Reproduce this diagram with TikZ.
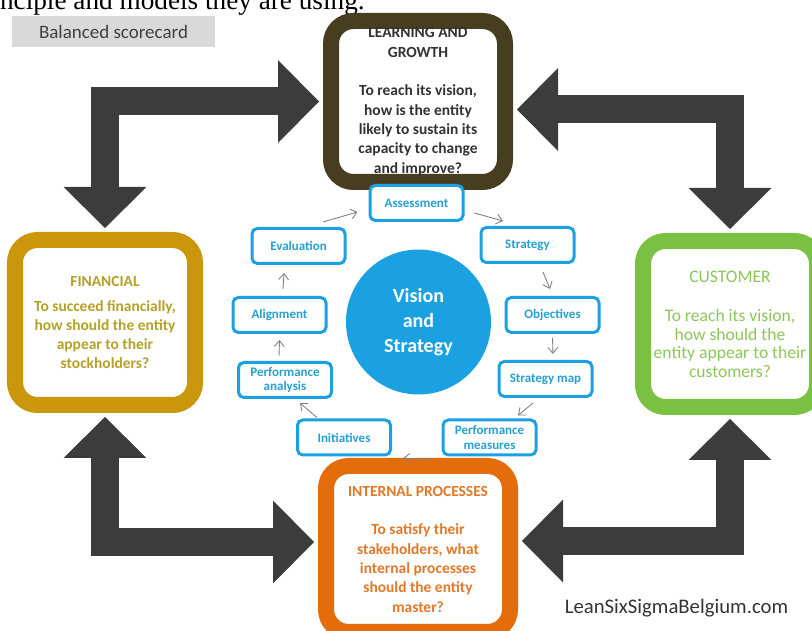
\documentclass[tikz,border=0pt]{standalone}
\usepackage{fontspec}
\setmainfont{Carlito}
\newfontfamily\pagefont{Liberation Serif}
\usetikzlibrary{arrows.meta,calc}

\definecolor{lgbrown}{RGB}{71,61,32}
\definecolor{lgtext}{RGB}{50,50,50}
\definecolor{fingold}{RGB}{201,150,12}
\definecolor{fintext}{RGB}{181,160,40}
\definecolor{custgreen}{RGB}{122,193,67}
\definecolor{custtext}{RGB}{141,198,90}
\definecolor{intorange}{RGB}{228,108,10}
\definecolor{inttext}{RGB}{226,120,40}
\definecolor{bscblue}{RGB}{27,161,226}
\definecolor{bsctext}{RGB}{38,160,212}
\definecolor{arrgray}{RGB}{60,60,60}

\begin{document}
\begin{tikzpicture}[
  every node/.style={inner sep=0pt},
  persp/.style={
    draw, fill=white, rounded corners=0.45cm, line width=0.32cm,
    align=center, font=\bfseries\fontsize{8.8}{11}\selectfont,
  },
  stage/.style={
    draw=bscblue, fill=white, rounded corners=3pt, line width=0.06cm,
    minimum width=1.86cm, minimum height=0.70cm,
    align=center, text=bsctext, font=\bfseries\fontsize{7.4}{8.5}\selectfont,
  },
  hub/.style={circle, fill=bscblue, minimum size=2.9cm, text=white,
    align=center, font=\bfseries\fontsize{11.4}{14.2}\selectfont},
  bigarr/.style={
    {Triangle[length=8.2mm, width=16.6mm, line width=0pt]}-{Triangle[length=8.2mm, width=16.6mm, line width=0pt]},
    line width=5.6mm, draw=arrgray,
    shorten <=0.08cm, shorten >=0.08cm,
  },
  cyc/.style={-{Straight Barb[length=1.2mm, width=2mm]}, line width=0.5pt, draw=gray},
]

\useasboundingbox (0,0) rectangle (16.24,-12.62);

% ===== PAGE HEADER =====
\node[anchor=base east, font=\pagefont\fontsize{15.5}{18}\selectfont] (pagetext) at (7.30,-0.20) {principle and models they are using.};
\node[fill=black!15, minimum width=4.06cm, minimum height=0.62cm, text=black!75,
  font=\fontsize{10.8}{12}\selectfont] (bsc) at (2.27,-0.63) {Balanced scorecard};

% ===== PERSPECTIVES =====
\node[persp, draw=lgbrown, text=lgtext, minimum width=3.48cm, minimum height=3.22cm] (learn) at (8.36,-2.03) {%
  LEARNING AND\\GROWTH\\[11pt]To reach its vision,\\how is the entity\\likely to sustain its\\capacity to change\\and improve?};
\node[persp, draw=fingold, text=fintext, minimum width=3.60cm, minimum height=3.30cm,
  font=\bfseries\fontsize{8.8}{10.8}\selectfont] (fin) at (2.10,-6.45) {%
  FINANCIAL\\[3.8pt]To succeed financially,\\how should the entity\\appear to their\\stockholders?};
\node[persp, draw=custgreen, text=custtext, minimum width=3.48cm, minimum height=3.32cm,
  font=\fontsize{10}{10.5}\selectfont] (cust) at (14.60,-6.48) {%
  CUSTOMER\\[12pt]To reach its vision,\\how should the\\entity appear to their\\customers?};
\node[persp, draw=intorange, text=inttext, minimum width=3.68cm, minimum height=3.32cm] (intp) at (8.36,-10.98) {%
  INTERNAL PROCESSES\\[11pt]To satisfy their\\stakeholders, what\\internal processes\\should the entity\\master?};

% ===== BIG ARROWS =====
\draw[bigarr] (fin.north) |- (learn.west);
\draw[bigarr] ([yshift=-0.16cm]learn.east) -| (cust.north);
\draw[bigarr] (fin.south) |- ([yshift=0.14cm]intp.west);
\draw[bigarr] (cust.south) |- ([yshift=0.16cm]intp.east);

% ===== CYCLE =====
\node[hub] (vision) at (8.37,-6.44) {Vision\\and\\Strategy};

\node[stage] (assess) at (8.33,-4.06) {Assessment};
\node[stage] (strat)  at (10.55,-4.90) {Strategy};
\node[stage] (obj)    at (11.05,-6.30) {Objectives};
\node[stage] (smap)   at (10.91,-7.58) {Strategy map};
\node[stage] (perfm)  at (9.79,-8.75) {Performance\\measures};
\node[stage] (init)   at (6.88,-8.75) {Initiatives};
\node[stage] (perfa)  at (5.70,-7.60) {Performance\\analysis};
\node[stage] (align)  at (5.59,-6.30) {Alignment};
\node[stage] (eval)   at (5.97,-4.92) {Evaluation};

\draw[cyc] ($(eval.north)+(0.49,0.1)$) -- ($(assess.west)+(-0.22,-0.18)$);
\draw[cyc] ($(assess.east)+(0.2,-0.2)$) -- ($(strat.north)+(-0.49,0.1)$);
\draw[cyc] ($(strat.south)+(0.31,-0.16)$) -- ($(obj.north)+(-0.05,0.14)$);
\draw[cyc] ($(obj.south)+(0,-0.08)$) -- ($(smap.north)+(0.15,0.12)$);
\draw[cyc] ($(smap.south)+(-0.25,-0.1)$) -- ($(perfm.north)+(0.57,0.06)$);
\draw[cyc] ($(perfm.south west)+(-0.24,-0.04)$) -- ($(init.south east)+(0.22,-0.04)$);
\draw[cyc] ($(init.north)+(-0.54,0.02)$) -- ($(perfa.south)+(0.3,-0.08)$);
\draw[cyc] ($(perfa.north)+(-0.12,0.1)$) -- ($(align.south)+(0,-0.12)$);
\draw[cyc] ($(align.north)+(0.07,0.14)$) -- ($(eval.south)+(-0.29,-0.16)$);

% ===== SOURCE =====
\node[text=black!80, font=\fontsize{11.8}{13}\selectfont] (site) at (13.53,-12.16) {LeanSixSigmaBelgium.com};

\end{tikzpicture}
\end{document}
